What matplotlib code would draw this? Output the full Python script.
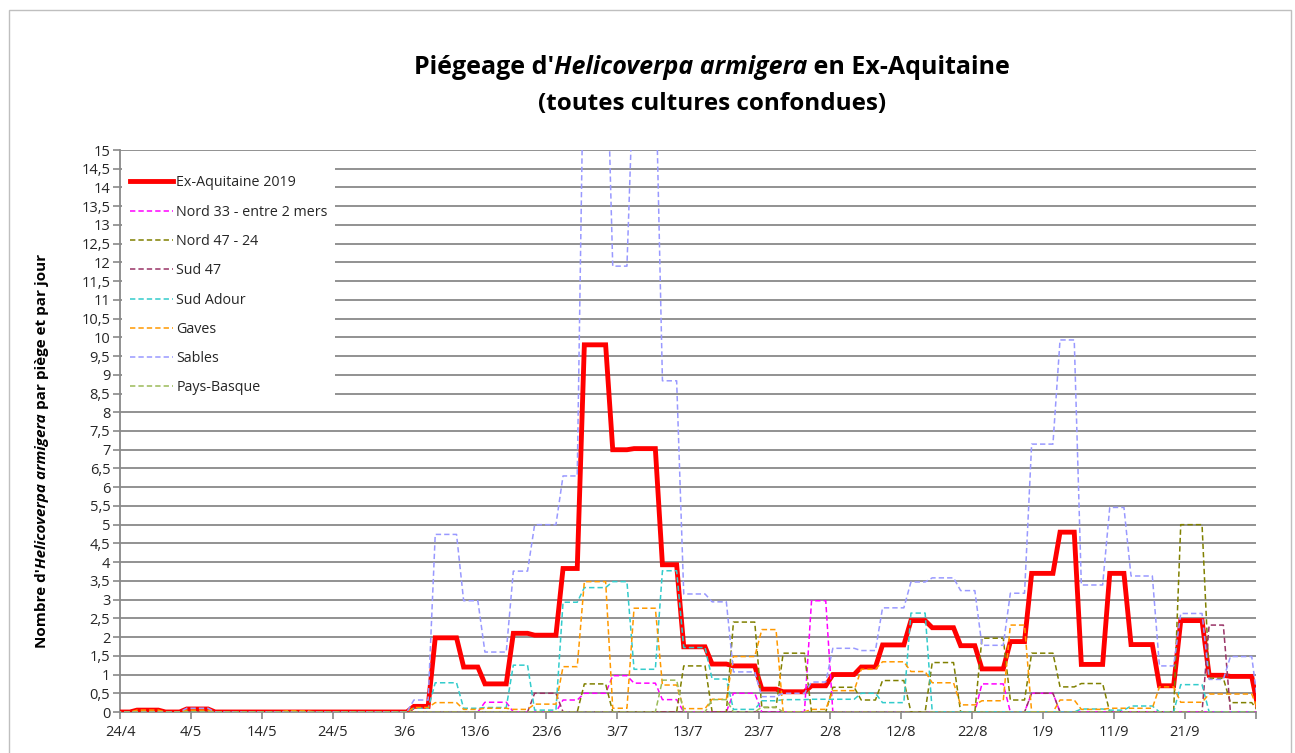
import numpy as np
import matplotlib.pyplot as plt
from matplotlib.patches import Rectangle

plt.rcParams['font.family'] = ['Open Sans', 'DejaVu Sans']

# ----- données (jour 0 = 24/4, début de chaque période de relevé) -----
DEBUT_PERIODE = [-1, 2, 6, 9, 13, 16, 20, 23, 27, 30, 34, 37,
                 41, 44, 48, 51, 55, 58, 62, 65, 69, 72, 76,
                 79, 83, 86, 90, 93, 97, 100, 104, 107, 111, 114,
                 118, 121, 125, 128, 132, 135, 139, 142, 146, 149, 153, 156,
                 160]

ex_aquitaine = [0, 0.05, 0, 0.08, 0, 0, 0, 0, 0, 0, 0, 0,
                0.15, 1.98, 1.2, 0.75, 2.1, 2.05, 3.83, 9.8, 7.0, 7.03, 3.93,
                1.74, 1.28, 1.23, 0.61, 0.54, 0.7, 1.0, 1.2, 1.79, 2.44, 2.25,
                1.77, 1.15, 1.88, 3.7, 4.8, 1.27, 3.7, 1.8, 0.7, 2.44, 0.98, 0.95,
                0]
nord_33 = [0, 0, 0, 0, 0, 0, 0, 0, 0, 0, 0, 0,
           0, 0, 0, 0.26, 0, 0, 0.32, 0.5, 0.97, 0.77, 0.33,
           0, 0, 0.5, 0, 0, 2.97, 0, 0, 0, 0, 0,
           0, 0.75, 0, 0.5, 0, 0, 0, 0, 0, 0, 0, 0,
           0]
nord_47_24 = [0, 0, 0, 0, 0, 0, 0, 0, 0, 0, 0, 0,
              0, 0, 0, 0, 0, 0, 0, 0.75, 0, 0, 0,
              1.23, 0, 2.4, 0.12, 1.57, 0, 0.66, 0.32, 0.84, 0, 1.32,
              0, 1.97, 0.32, 1.57, 0.67, 0.76, 0, 0, 0, 5.0, 0.9, 0.25,
              0]
sud_47 = [0, 0, 0, 0, 0, 0, 0, 0, 0, 0, 0, 0,
          0, 0, 0, 0, 0, 0.5, 0, 0, 0, 0, 0,
          0, 0, 0, 0, 0, 0, 0, 0, 0, 0, 0,
          0, 0, 0, 0.5, 0, 0, 0, 0, 0, 0, 2.32, 0,
          0]
sud_adour = [0, 0, 0, 0, 0, 0, 0, 0, 0, 0, 0, 0,
             0.1, 0.78, 0.1, 0.12, 1.25, 0.05, 2.93, 3.32, 3.48, 1.14, 3.77,
             1.72, 0.88, 0.07, 0.3, 0.33, 0.34, 0.34, 0.5, 0.25, 2.64, 0,
             0, 0, 0, 0, 0, 0.08, 0.05, 0.16, 0, 0.73, 0, 0,
             0]
gaves = [0, 0.05, 0, 0.05, 0, 0, 0, 0.03, 0, 0, 0, 0,
         0.12, 0.25, 0.07, 0.1, 0.07, 0.21, 1.21, 3.48, 0.1, 2.77, 0.72,
         0.09, 0.34, 1.48, 2.2, 0, 0.07, 0.57, 1.14, 1.34, 1.08, 0.78,
         0.19, 0.3, 2.32, 0, 0.32, 0.07, 0.1, 0.1, 0.67, 0.26, 0.48, 0.48,
         0]
sables = [0, 0, 0, 0.1, 0, 0, 0, 0, 0, 0, 0, 0,
          0.32, 4.74, 2.97, 1.6, 3.76, 5.0, 6.3, 19.0, 11.9, 17.5, 8.84,
          3.15, 2.94, 1.07, 0.41, 0.5, 0.8, 1.7, 1.64, 2.78, 3.47, 3.58,
          3.24, 1.78, 3.17, 7.15, 9.93, 3.39, 5.46, 3.63, 1.23, 2.63, 0.87, 1.48,
          0]
pays_basque = [0, 0, 0, 0, 0, 0, 0, 0, 0, 0, 0, 0,
               0, 0, 0, 0, 0, 0, 0, 0, 0, 0, 0.85,
               0, 0.33, 0, 0.13, 0, 0, 0, 0, 0, 0, 0,
               0, 0, 0, 0, 0, 0, 0, 0, 0, 0, 0, 0,
               0]

SERIES = ["Ex-Aquitaine 2019", "Nord 33 - entre 2 mers", "Nord 47 - 24", "Sud 47",
          "Sud Adour", "Gaves", "Sables", "Pays-Basque"]
VALEURS = [ex_aquitaine, nord_33, nord_47_24, sud_47, sud_adour, gaves, sables, pays_basque]
COULEURS = ["#FF0000", "#FF00FF", "#808000", "#993366", "#33CCCC", "#FF9900", "#9999FF", "#9BBB59"]

XTICKS = list(range(0, 161, 10))
XTICK_LABELS = ["24/4", "4/5", "14/5", "24/5", "3/6", "13/6", "23/6", "3/7", "13/7",
                "23/7", "2/8", "12/8", "22/8", "1/9", "11/9", "21/9", ""]
YTICKS = np.arange(0, 15.01, 0.5)

DECALAGE = 0.4  # les relevés sont légèrement décalés par rapport aux graduations
GRIS = "#898989"


def trace_xy(valeurs):
    """plateau sur chaque période, rampe d'un jour vers la suivante"""
    x, y = [], []
    for i, v in enumerate(valeurs[:-1]):
        x += [DEBUT_PERIODE[i], DEBUT_PERIODE[i + 1] - 1]
        y += [v, v]
    x.append(DEBUT_PERIODE[-1])
    y.append(valeurs[-1])
    return np.array(x) + DECALAGE, y


fig = plt.figure(figsize=(12.95, 7.53), dpi=100)
fig.patches.append(Rectangle((9 / 1295, -0.05), 1282 / 1295, 1.05 - 10 / 753,
                             transform=fig.transFigure, fill=False,
                             edgecolor="#BFBFBF", lw=1))
ax = fig.add_axes([120 / 1295, 41 / 753, 1136 / 1295, 562 / 753])

for nom, vals, coul in zip(SERIES, VALEURS, COULEURS):
    x, y = trace_xy(vals)
    if nom == "Ex-Aquitaine 2019":
        ax.plot(x, y, color=coul, lw=3.5, label=nom, zorder=3, solid_joinstyle="miter")
    else:
        ax.plot(x, y, color=coul, lw=1.1, ls=(0, (3.5, 2)), label=nom, zorder=4)

ax.set_xlim(0, 160)
ax.set_ylim(0, 15)
ax.set_xticks(XTICKS)
ax.set_xticklabels(XTICK_LABELS)
ax.set_yticks(YTICKS)
ax.set_yticklabels([f"{v:g}".replace(".", ",") for v in YTICKS])
ax.yaxis.grid(True, color=GRIS, lw=1.3)
ax.set_axisbelow(True)
for s in ["top", "right"]:
    ax.spines[s].set_visible(False)
for s in ["left", "bottom"]:
    ax.spines[s].set_color(GRIS)
    ax.spines[s].set_linewidth(1.3)
ax.tick_params(axis="both", colors=GRIS, length=5, width=1.2, labelsize=10.5,
               labelcolor="#262626")
ax.tick_params(axis="x", pad=4)
ax.tick_params(axis="y", pad=2)

# fond blanc de la légende (cache le quadrillage)
ax.add_patch(Rectangle((0.0018, 0.546), 0.1875, 0.445, transform=ax.transAxes,
                       facecolor="white", edgecolor="none", zorder=1))
leg = ax.legend(loc="upper left", bbox_to_anchor=(0.0088, 0.955), fontsize=10.3,
                frameon=False, handlelength=3.0, handletextpad=0.25,
                labelspacing=1.0, borderpad=0, borderaxespad=0)
for t in leg.get_texts():
    t.set_color("#262626")

# ----- titre (morceaux gras / gras italique) -----
TAILLE_TITRE = 18
t1 = fig.text(0.5, 1 - 80.5 / 753, "Piégeage d'", fontsize=TAILLE_TITRE,
              fontweight="bold", ha="left", va="bottom")
t2 = ax.annotate("Helicoverpa armigera", xy=(1, 0), xycoords=t1, fontsize=TAILLE_TITRE,
                 fontweight="bold", fontstyle="italic", ha="left", va="bottom",
                 annotation_clip=False)
t3 = ax.annotate(" en Ex-Aquitaine", xy=(1, 0), xycoords=t2, fontsize=TAILLE_TITRE,
                 fontweight="bold", ha="left", va="bottom", annotation_clip=False)
fig.text(712 / 1295, 1 - 116 / 753, "(toutes cultures confondues)", fontsize=17.5,
         fontweight="bold", ha="center", va="bottom")

# ----- titre de l'axe y -----
TAILLE_Y = 11
y1 = fig.text(35 / 1295, 0.4, "Nombre d'", fontsize=TAILLE_Y, fontweight="bold",
              rotation=90, ha="left", va="bottom")
y2 = ax.annotate("Helicoverpa armigera", xy=(0, 1), xycoords=y1, fontsize=TAILLE_Y,
                 fontweight="bold", fontstyle="italic", rotation=90,
                 ha="left", va="bottom", annotation_clip=False)
y3 = ax.annotate(" par piège et par jour", xy=(0, 1), xycoords=y2, fontsize=TAILLE_Y,
                 fontweight="bold", rotation=90, ha="left", va="bottom",
                 annotation_clip=False)

# recentrage des textes composés
fig.canvas.draw()
r = fig.canvas.get_renderer()
b1, b3 = t1.get_window_extent(r), t3.get_window_extent(r)
largeur = (b3.x1 - b1.x0) / fig.bbox.width
t1.set_x(712 / 1295 - largeur / 2)
c1, c3 = y1.get_window_extent(r), y3.get_window_extent(r)
hauteur = (c3.y1 - c1.y0) / fig.bbox.height
y1.set_y((1 - 451 / 753) - hauteur / 2)

fig.savefig("out.png", dpi=100)
